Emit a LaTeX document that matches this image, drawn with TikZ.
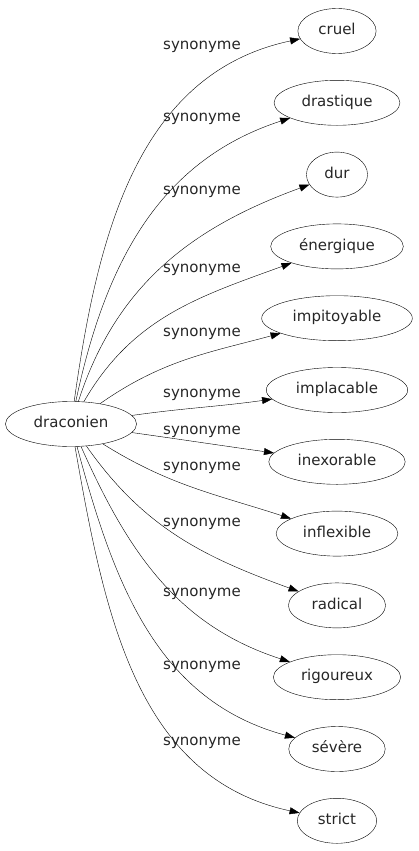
\documentclass[tikz,border=0pt]{standalone}
\usepackage{fontspec}
\setmainfont{DejaVu Sans}
\usepackage{xcolor}
\usepackage{tikz}
\usetikzlibrary{shapes.geometric, arrows.meta}
\tikzstyle{word}  = [ellipse, draw=black, thin, inner xsep=9pt, inner ysep=0pt, minimum height=45pt, text height=11pt, text depth=3.5pt, text=black!85, font=\fontsize{15pt}{18pt}\selectfont]
\tikzstyle{lbl}   = [inner sep=0pt, text=black!85, font=\fontsize{15pt}{18pt}\selectfont]
\tikzstyle{arrow} = [thin, -{Triangle[length=10pt, width=7pt]}]

\begin{document}
\begin{tikzpicture}[x=1pt, y=1pt, node distance=71.8pt]
    \useasboundingbox (0,0) rectangle (419,-851);

    \node (draconien) [word] at (71,-424) {draconien};

    \node (cruel)       [word] at (337,-31) {cruel};
    \node (drastique)   [word, below of=cruel]       {drastique};
    \node (dur)         [word, below of=drastique]   {dur};
    \node (energique)   [word, below of=dur]         {énergique};
    \node (impitoyable) [word, below of=energique]   {impitoyable};
    \node (implacable)  [word, below of=impitoyable] {implacable};
    \node (inexorable)  [word, below of=implacable]  {inexorable};
    \node (inflexible)  [word, below of=inexorable]  {inflexible};
    \node (radical)     [word, below of=inflexible]  {radical};
    \node (rigoureux)   [word, below of=radical]     {rigoureux};
    \node (severe)      [word, below of=rigoureux]   {sévère};
    \node (strict)      [word, below of=severe]      {strict};

    % arrows
    \draw [arrow] (draconien) to[out=82,  in=192] (cruel);
    \draw [arrow] (draconien) to[out=78,  in=198] (drastique);
    \draw [arrow] (draconien) to[out=72,  in=200] (dur);
    \draw [arrow] (draconien) to[out=60,  in=200] (energique);
    \draw [arrow] (draconien) to[out=35,  in=195] (impitoyable);
    \draw [arrow] (draconien) to[out=8,   in=188] (implacable);
    \draw [arrow] (draconien) to[out=-8,  in=172] (inexorable);
    \draw [arrow] (draconien) to[out=-32, in=162] (inflexible);
    \draw [arrow] (draconien) to[out=-55, in=160] (radical);
    \draw [arrow] (draconien) to[out=-66, in=162] (rigoureux);
    \draw [arrow] (draconien) to[out=-75, in=165] (severe);
    \draw [arrow] (draconien) to[out=-80, in=168] (strict);

    % edge labels
    \node (l1)  [lbl] at (202,-47)  {synonyme};
    \node (l2)  [lbl] at (202,-119) {synonyme};
    \node (l3)  [lbl] at (202,-192) {synonyme};
    \node (l4)  [lbl] at (202,-270) {synonyme};
    \node (l5)  [lbl] at (202,-334) {synonyme};
    \node (l6)  [lbl] at (202,-395) {synonyme};
    \node (l7)  [lbl] at (202,-432) {synonyme};
    \node (l8)  [lbl] at (202,-468) {synonyme};
    \node (l9)  [lbl] at (202,-524) {synonyme};
    \node (l10) [lbl] at (202,-594) {synonyme};
    \node (l11) [lbl] at (202,-667) {synonyme};
    \node (l12) [lbl] at (202,-743) {synonyme};
\end{tikzpicture}
\end{document}
